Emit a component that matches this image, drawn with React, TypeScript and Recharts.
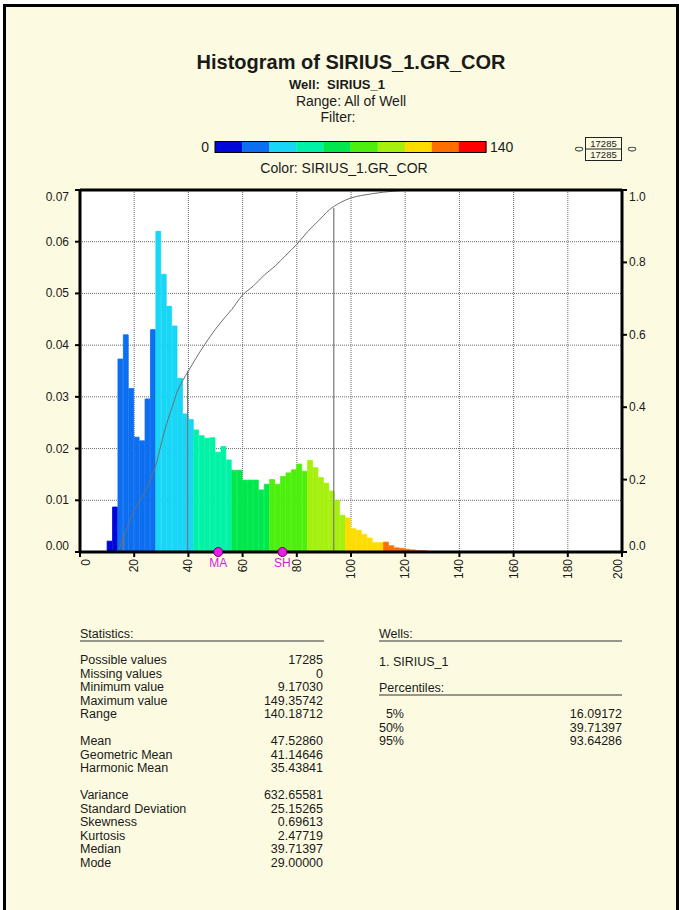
import {
  ComposedChart,
  Bar,
  Cell,
  Line,
  XAxis,
  YAxis,
  CartesianGrid,
  ReferenceLine,
  ReferenceDot,
} from "recharts";

const FONT = '"Liberation Sans", Arial, Helvetica, sans-serif';
const PAGE_BG = "#fcfbe1";
const INK = "#1a1a1a";

// GR_COR histogram, 2 API bins (bin start -> fraction of samples)
const BIN_WIDTH = 2;
const binStarts = [
  10, 12, 14, 16, 18, 20, 22, 24, 26, 28, 30, 32, 34, 36, 38, 40, 42, 44, 46, 48,
  50, 52, 54, 56, 58, 60, 62, 64, 66, 68, 70, 72, 74, 76, 78, 80, 82, 84, 86, 88,
  90, 92, 94, 96, 98, 100, 102, 104, 106, 108, 110, 112, 114, 116, 118, 120, 122,
  124, 126, 128, 130,
];
const frequency = [
  0.0021, 0.0087, 0.0373, 0.042, 0.0316, 0.0222, 0.0215, 0.0296, 0.043, 0.062,
  0.0537, 0.0475, 0.0437, 0.0336, 0.0267, 0.0256, 0.0236, 0.0225, 0.022, 0.0221,
  0.0193, 0.0204, 0.0178, 0.0158, 0.0158, 0.0139, 0.0139, 0.0139, 0.012, 0.0131,
  0.014, 0.0131, 0.0146, 0.0153, 0.0159, 0.017, 0.0156, 0.0177, 0.0163, 0.0144,
  0.0133, 0.0118, 0.01, 0.0071, 0.0066, 0.0045, 0.0042, 0.0034, 0.0027, 0.0018,
  0.0018, 0.0019, 0.0012, 0.0008, 0.0007, 0.0005, 0.0004, 0.0003, 0.0002, 0.0001,
  0.0001,
];

// cumulative fraction curve
const cumX = [
  12, 14, 16, 18, 20, 22, 24, 26, 28, 30, 32, 34, 36, 38, 40, 44, 48, 52, 56, 60,
  64, 68, 72, 76, 80, 84, 88, 92, 96, 100, 104, 108, 112, 116, 120, 124,
];
const cumFraction = [
  0, 0.005, 0.04, 0.08, 0.115, 0.14, 0.165, 0.2, 0.24, 0.3, 0.355, 0.4, 0.445,
  0.475, 0.5, 0.55, 0.595, 0.635, 0.67, 0.71, 0.735, 0.765, 0.79, 0.82, 0.85,
  0.885, 0.915, 0.945, 0.965, 0.978, 0.985, 0.99, 0.994, 0.997, 0.999, 1,
];

const percentileNames = ["5%", "50%", "95%"];
const percentileValues = [16.09172, 39.71397, 93.64286];
const percentileLevels = [0.05, 0.5, 0.95];

// zone tops posted on the x axis
const zoneNames = ["MA", "SH"];
const zoneValues = [51.0, 74.7];

const X_MIN = 0;
const X_MAX = 200;
const xTicks = [0, 20, 40, 60, 80, 100, 120, 140, 160, 180, 200];
const leftTicks = [0, 0.01, 0.02, 0.03, 0.04, 0.05, 0.06, 0.07];
const rightTicks = [0, 0.2, 0.4, 0.6, 0.8, 1.0];

const COLOR_MIN = 0;
const COLOR_MAX = 140;
const colorScale = [
  "#0008d8", "#0c6ef0", "#18d6f6", "#00f2a6", "#00e84c",
  "#4cf00c", "#a6f00e", "#ffdc00", "#ff6e00", "#ff0000",
];

const statLabels = [
  "Possible values", "Missing values", "Minimum value", "Maximum value", "Range",
  "", "Mean", "Geometric Mean", "Harmonic Mean",
  "", "Variance", "Standard Deviation", "Skewness", "Kurtosis", "Median", "Mode",
];
const statValues = [
  "17285", "0", "9.17030", "149.35742", "140.18712",
  "", "47.52860", "41.14646", "35.43841",
  "", "632.65581", "25.15265", "0.69613", "2.47719", "39.71397", "29.00000",
];
const wellNames = ["1. SIRIUS_1"];
const sampleCount = "17285";

// plot box geometry
const CHART_W = 679;
const CHART_H = 600;
const PLOT_LEFT = 80;
const PLOT_RIGHT = 622;
const PLOT_TOP = 190;
const PLOT_BOTTOM = 552;
const LEFT_AXIS_W = 50;
const RIGHT_AXIS_W = 40;
const X_AXIS_H = 30;
const barPx = ((PLOT_RIGHT - PLOT_LEFT) * BIN_WIDTH) / (X_MAX - X_MIN);

const histogram = binStarts.map((start, i) => ({
  mid: start + BIN_WIDTH / 2,
  start,
  freq: frequency[i],
}));
const cumulative = cumX.map((x, i) => ({ x, frac: cumFraction[i] }));

const colorStep = (COLOR_MAX - COLOR_MIN) / colorScale.length;
const binColor = (start: number) =>
  colorScale[Math.min(colorScale.length - 1, Math.floor((start - COLOR_MIN) / colorStep))];

// end labels are nudged inward so they stay inside the frame edges
function RotatedTick({ x, y, payload }: any) {
  const v = payload.value;
  const nudge = v === X_MIN ? 6 : v === X_MAX ? -4 : 0;
  const tx = x + nudge;
  return (
    <text
      x={tx}
      y={y}
      transform={`rotate(-90 ${tx} ${y})`}
      textAnchor="end"
      dominantBaseline="central"
      fontSize={12}
      fontFamily={FONT}
      fill={INK}
    >
      {v}
    </text>
  );
}

function ValueTick(max: number, digits: number, anchor: "start" | "end") {
  return ({ x, y, payload }: any) => {
    const v = payload.value;
    const nudge = v === max ? 7 : v === 0 ? -6 : 0;
    return (
      <text
        x={x}
        y={y + nudge}
        textAnchor={anchor}
        dominantBaseline="central"
        fontSize={12}
        fontFamily={FONT}
        fill={INK}
      >
        {v.toFixed(digits)}
      </text>
    );
  };
}

function ZoneMarker(name: string) {
  return (props: any) => (
    <g>
      <circle cx={props.cx} cy={props.cy} r={4.5} fill="#e81ee8" stroke="#6a006a" strokeWidth={1} />
      <text
        x={props.cx}
        y={props.cy + 15}
        textAnchor="middle"
        fontSize={12}
        fontFamily={FONT}
        fill="#d21ed2"
      >
        {name}
      </text>
    </g>
  );
}

function Header() {
  const barX = 215;
  const barW = 271;
  const segW = barW / colorScale.length;
  return (
    <g fontFamily={FONT} fill={INK}>
      <text x={351} y={69} textAnchor="middle" fontSize={20} fontWeight="bold">
        Histogram of SIRIUS_1.GR_COR
      </text>
      <text x={337} y={89} textAnchor="middle" fontSize={13} fontWeight="bold" xmlSpace="preserve">
        Well:  SIRIUS_1
      </text>
      <text x={351} y={106} textAnchor="middle" fontSize={14}>
        Range: All of Well
      </text>
      <text x={338} y={122} textAnchor="middle" fontSize={14}>
        Filter:
      </text>
      {colorScale.map((c, i) => (
        <rect key={c} x={barX + i * segW} y={141.5} width={segW + 0.3} height={11} fill={c} />
      ))}
      <rect x={barX} y={141.5} width={barW} height={11} fill="none" stroke="#000" strokeWidth={1} />
      <text x={209} y={152} textAnchor="end" fontSize={14}>
        {COLOR_MIN}
      </text>
      <text x={490} y={152} fontSize={14}>
        {COLOR_MAX}
      </text>
      <text x={344} y={173} textAnchor="middle" fontSize={14}>
        Color: SIRIUS_1.GR_COR
      </text>

      <rect x={585.5} y={137.5} width={36} height={23} fill="none" stroke="#222" strokeWidth={1} />
      <line x1={585.5} x2={621.5} y1={149} y2={149} stroke="#222" strokeWidth={1} />
      <text x={603.5} y={146.5} textAnchor="middle" fontSize={9.5}>
        {sampleCount}
      </text>
      <text x={603.5} y={158} textAnchor="middle" fontSize={9.5}>
        {sampleCount}
      </text>
      <text x={578} y={149} transform="rotate(90 578 149)" textAnchor="middle" dominantBaseline="central" fontSize={10}>
        0
      </text>
      <text x={631} y={149} transform="rotate(90 631 149)" textAnchor="middle" dominantBaseline="central" fontSize={10}>
        0
      </text>
    </g>
  );
}

function Tables() {
  const lineH = 13.5;
  return (
    <g fontFamily={FONT} fill={INK} fontSize={12.5}>
      <text x={80} y={638}>Statistics:</text>
      <line x1={80} x2={324} y1={641} y2={641} stroke="#333" strokeWidth={1.2} />
      {statLabels.map((label, i) =>
        label ? (
          <g key={label}>
            <text x={80} y={664 + i * lineH}>{label}</text>
            <text x={323} y={664 + i * lineH} textAnchor="end">{statValues[i]}</text>
          </g>
        ) : null
      )}

      <text x={379} y={637.5}>Wells:</text>
      <line x1={379} x2={622} y1={641} y2={641} stroke="#333" strokeWidth={1.2} />
      {wellNames.map((w, i) => (
        <text key={w} x={379} y={665.5 + i * lineH}>{w}</text>
      ))}
      <text x={379} y={692}>Percentiles:</text>
      <line x1={379} x2={622} y1={695} y2={695} stroke="#333" strokeWidth={1.2} />
      {percentileNames.map((p, i) => (
        <g key={p}>
          <text x={404} y={718 + i * lineH} textAnchor="end">{p}</text>
          <text x={622} y={718 + i * lineH} textAnchor="end">
            {percentileValues[i].toFixed(5)}
          </text>
        </g>
      ))}
    </g>
  );
}

export default function App() {
  return (
    <div style={{ position: "relative", width: 679, height: 910, background: "#fff", overflow: "hidden" }}>
      <style>{`body{margin:0}`}</style>
      <div
        style={{
          position: "absolute",
          left: 3,
          top: 4,
          width: 670,
          height: 920,
          background: PAGE_BG,
          border: "3px solid #000",
        }}
      />
      <svg width={679} height={910} style={{ position: "absolute", left: 0, top: 0 }}>
        <Header />
        <Tables />
      </svg>
      <div style={{ position: "absolute", left: 0, top: 0 }}>
        <ComposedChart
          width={CHART_W}
          height={CHART_H}
          data={histogram}
          barCategoryGap={0}
          barGap={0}
          margin={{
            top: PLOT_TOP,
            right: CHART_W - PLOT_RIGHT - RIGHT_AXIS_W,
            bottom: CHART_H - PLOT_BOTTOM - X_AXIS_H,
            left: PLOT_LEFT - LEFT_AXIS_W,
          }}
        >
          <CartesianGrid
            xAxisId="bins"
            yAxisId="left"
            fill="#ffffff"
            stroke="#6a6a6a"
            strokeDasharray="1 1"
          />
          <XAxis
            xAxisId="bins"
            dataKey="mid"
            type="number"
            domain={[X_MIN, X_MAX]}
            ticks={xTicks}
            interval={0}
            height={X_AXIS_H}
            tick={<RotatedTick />}
            tickSize={5}
            axisLine={{ stroke: "#000", strokeWidth: 3 }}
            tickLine={{ stroke: "#000", strokeWidth: 2 }}
          />
          <XAxis xAxisId="cum" dataKey="x" type="number" domain={[X_MIN, X_MAX]} hide />
          <YAxis
            yAxisId="left"
            orientation="left"
            domain={[0, 0.07]}
            ticks={leftTicks}
            interval={0}
            width={LEFT_AXIS_W}
            tickSize={5}
            tickMargin={6}
            tick={ValueTick(0.07, 2, "end")}
            axisLine={{ stroke: "#000", strokeWidth: 3 }}
            tickLine={{ stroke: "#000", strokeWidth: 2 }}
          />
          <YAxis
            yAxisId="right"
            orientation="right"
            domain={[0, 1]}
            ticks={rightTicks}
            interval={0}
            width={RIGHT_AXIS_W}
            tickSize={5}
            tick={ValueTick(1, 1, "start")}
            axisLine={{ stroke: "#000", strokeWidth: 3 }}
            tickLine={{ stroke: "#000", strokeWidth: 2 }}
          />
          <Bar xAxisId="bins" yAxisId="left" dataKey="freq" barSize={barPx} isAnimationActive={false}>
            {histogram.map((d) => (
              <Cell
                key={d.start}
                fill={binColor(d.start)}
                stroke={binColor(d.start)}
                strokeWidth={0.8}
              />
            ))}
          </Bar>
          {percentileValues.map((v, i) => (
            <ReferenceLine
              key={percentileNames[i]}
              xAxisId="cum"
              yAxisId="right"
              segment={[
                { x: v, y: 0 },
                { x: v, y: percentileLevels[i] },
              ]}
              stroke="#777"
              strokeWidth={1.2}
            />
          ))}
          <Line
            data={cumulative}
            xAxisId="cum"
            yAxisId="right"
            dataKey="frac"
            type="monotone"
            stroke="#6e6e6e"
            strokeWidth={1}
            dot={false}
            isAnimationActive={false}
          />
          <ReferenceLine xAxisId="bins" yAxisId="left" y={0.07} stroke="#000" strokeWidth={3} />
          {zoneNames.map((name, i) => (
            <ReferenceDot
              key={name}
              xAxisId="cum"
              yAxisId="left"
              x={zoneValues[i]}
              y={0}
              r={4.5}
              shape={ZoneMarker(name)}
            />
          ))}
        </ComposedChart>
      </div>
    </div>
  );
}
